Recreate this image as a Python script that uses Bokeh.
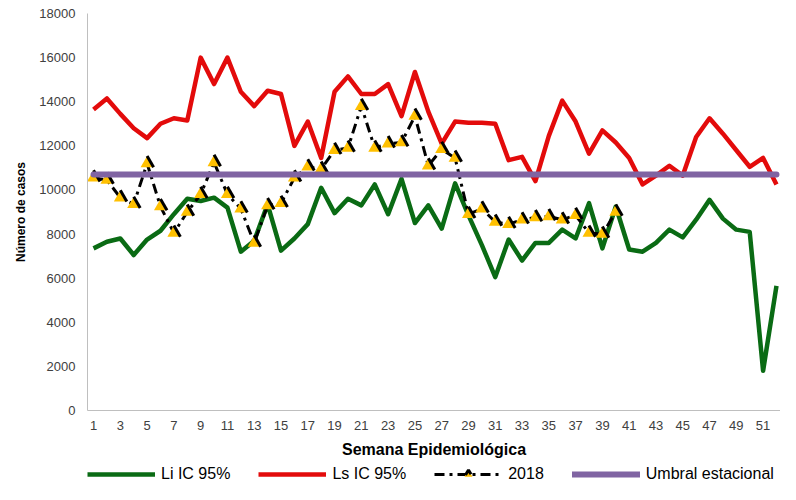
from bokeh.plotting import figure
from bokeh.models import FixedTicker, Legend, LegendItem
from bokeh.layouts import column
from bokeh.embed import file_html
from bokeh.resources import INLINE

weeks = list(range(1, 53))
li_ic95 = [7350, 7650, 7800, 7050, 7750, 8150, 8900, 9600, 9500, 9650,
           9200, 7200, 7700, 9350, 7250, 7800, 8450, 10100, 8950, 9600,
           9300, 10250, 8900, 10500, 8500, 9300, 8250, 10300, 8850, 7500,
           6050, 7750, 6800, 7600, 7600, 8200, 7800, 9400, 7350, 9250,
           7300, 7200, 7600, 8200, 7850, 8650, 9550, 8700, 8200, 8100,
           1800, 5650]
ls_ic95 = [13650, 14150, 13450, 12800, 12350, 13000, 13250, 13150, 16000, 14800,
           16000, 14450, 13800, 14500, 14350, 12000, 13100, 11450, 14450, 15150,
           14350, 14350, 14800, 13350, 15350, 13550, 12100, 13100, 13050, 13050,
           13000, 11350, 11500, 10400, 12450, 14050, 13100, 11650, 12700, 12150,
           11450, 10250, 10650, 11100, 10650, 12400, 13250, 12550, 11800, 11050,
           11450, 10250]
weeks_2018 = list(range(1, 41))
cases_2018 = [10550, 10450, 9650, 9350, 11200, 9250, 8050, 9000, 9800, 11250,
              9800, 9150, 7600, 9300, 9400, 10550, 11050, 10950, 11800, 11900,
              13800, 11900, 12100, 12150, 13350, 11100, 11850, 11450, 8900, 9150,
              8550, 8450, 8650, 8750, 8800, 8650, 8850, 8050, 8000, 9000]
umbral = [10700] * 52
x_ticks = list(range(1, 52, 2))
y_ticks = list(range(0, 18001, 2000))

FONT = "Liberation Sans"
GREEN, RED, GOLD, PURPLE = "#0A6B14", "#E30B0B", "#FFC000", "#8064A2"
DASH_2018 = "10 5 3 5"


def draw_series(fig, msize):
    a = fig.line(weeks, li_ic95, line_color=GREEN, line_width=4.5, line_join="round")
    b = fig.line(weeks, ls_ic95, line_color=RED, line_width=4.5, line_join="round")
    c = fig.line(weeks_2018, cases_2018, line_color="black", line_width=3,
                 line_dash=DASH_2018)
    d = fig.scatter(weeks_2018, cases_2018, marker="triangle", size=msize,
                    fill_color=GOLD, line_color="black", line_width=3,
                    line_dash=f"{msize} {msize}", line_dash_offset=msize)
    e = fig.line(weeks, umbral, line_color=PURPLE, line_width=6, line_cap="round")
    return a, b, c, d, e


p = figure(width=780, height=464, x_range=(0.55, 52.3), y_range=(0, 18000),
           output_backend="svg", toolbar_location=None,
           min_border_left=87, min_border_right=0, min_border_top=13,
           min_border_bottom=54)
p.outline_line_color = None
p.grid.grid_line_color = None
draw_series(p, 13)

for ax in (p.xaxis[0], p.yaxis[0]):
    ax.axis_line_color = "#BFBFBF"
    ax.axis_line_width = 1
    ax.major_tick_line_color = None
    ax.minor_tick_line_color = None
    ax.major_tick_out = 0
    ax.major_tick_in = 0
    ax.minor_tick_out = 0
    ax.major_label_text_font = FONT
    ax.major_label_text_font_size = "13px"
    ax.major_label_text_color = "#404040"
    ax.axis_label_text_font = FONT
    ax.axis_label_text_font_style = "bold"
    ax.axis_label_text_color = "black"

p.xaxis.ticker = FixedTicker(ticks=x_ticks)
p.yaxis.ticker = FixedTicker(ticks=y_ticks)
p.xaxis.axis_label = "Semana Epidemiológica"
p.yaxis.axis_label = "Número de casos"
p.xaxis.axis_label_text_font_size = "16px"
p.yaxis.axis_label_text_font_size = "12px"
p.xaxis.major_label_standoff = 10
p.yaxis.major_label_standoff = 12
p.xaxis.axis_label_standoff = 8
p.yaxis.axis_label_standoff = 8

# legend strip below the chart (its series lie outside its visible ranges)
lg = figure(width=780, height=20, x_range=(0, 1), y_range=(-2, -1),
            output_backend="svg", toolbar_location=None,
            min_border_left=0, min_border_right=0,
            min_border_top=0, min_border_bottom=0)
lg.axis.visible = False
lg.grid.grid_line_color = None
lg.outline_line_color = None
g_li, g_ls, g_l18, g_m18, g_um = draw_series(lg, 11)

legend = Legend(items=[
    LegendItem(label="Li IC 95%", renderers=[g_li]),
    LegendItem(label="Ls IC 95%", renderers=[g_ls]),
    LegendItem(label="2018", renderers=[g_l18, g_m18]),
    LegendItem(label="Umbral estacional", renderers=[g_um]),
], orientation="horizontal", location=(0, 0))
legend.label_text_font = FONT
legend.label_text_font_size = "16px"
legend.label_text_color = "black"
legend.glyph_width = 68
legend.glyph_height = 20
legend.label_standoff = 6
legend.spacing = 28
legend.border_line_color = None
legend.background_fill_alpha = 0
legend.margin = 0
legend.padding = 0
lg.add_layout(legend, "center")

layout = column(p, lg, spacing=0)
open("out.html", "w").write(file_html(layout, INLINE))
